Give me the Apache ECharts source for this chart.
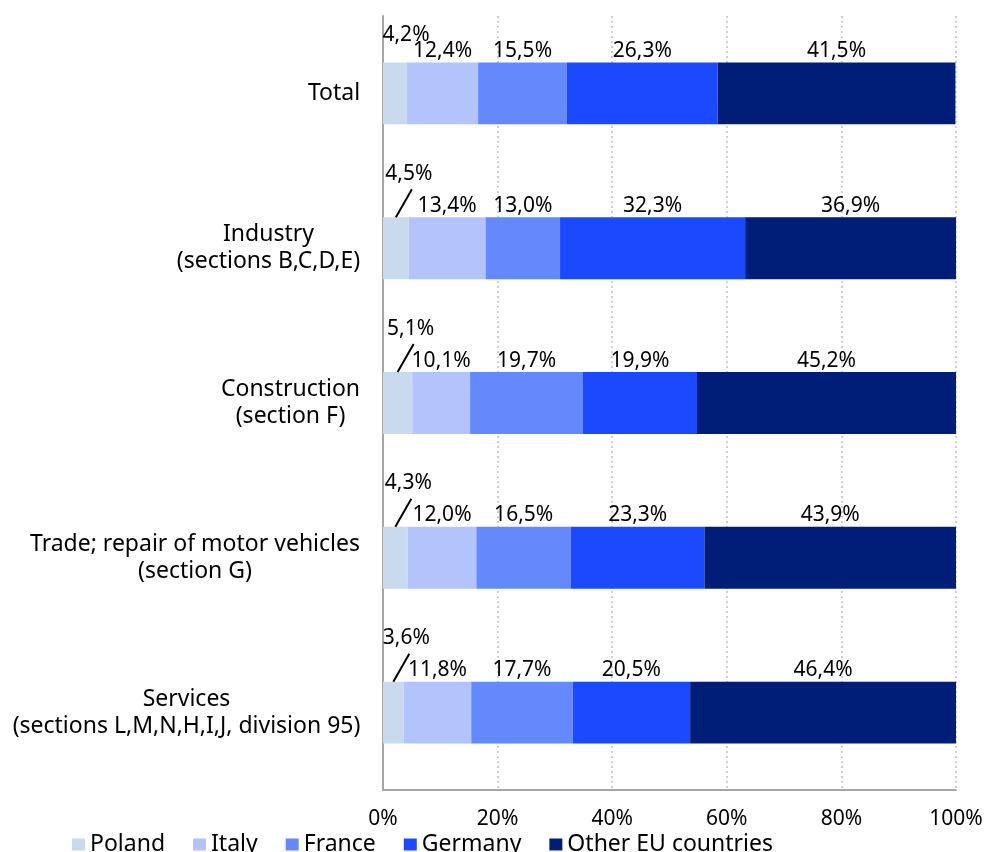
<!DOCTYPE html>
<html>
<head>
<meta charset="utf-8">
<script src="https://cdn.jsdelivr.net/npm/echarts@6/dist/echarts.min.js"></script>
<style>html,body{margin:0;padding:0;background:#fff}#c{width:987px;height:852px}</style>
</head>
<body>
<div id="c"></div>
<script>
const categories = [
  'Total',
  'Industry\n(sections B,C,D,E)',
  'Construction\n(section F)',
  'Trade; repair of motor vehicles\n(section G)',
  'Services\n(sections L,M,N,H,I,J, division 95)'
];
const seriesNames = ['Poland', 'Italy', 'France', 'Germany', 'Other EU countries'];
const poland  = [4.2, 4.5, 5.1, 4.3, 3.6];
const italy   = [12.4, 13.4, 10.1, 12.0, 11.8];
const france  = [15.5, 13.0, 19.7, 16.5, 17.7];
const germany = [26.3, 32.3, 19.9, 23.3, 20.5];
const otherEU = [41.5, 36.9, 45.2, 43.9, 46.4];
const xTicks = [0, 20, 40, 60, 80, 100];

const colors = ['#c9d9ee', '#b3c3fc', '#6389fd', '#1b4afe', '#001e78'];
const FONT = 'Noto Sans';
const CAT_SIZE = 23;
const fmt = v => v.toFixed(1).replace('.', ',') + '%';

// measure category lines so multi-line labels can be centred within a right-aligned block
const ctx = document.createElement('canvas').getContext('2d');
ctx.font = CAT_SIZE + 'px "' + FONT + '"';
const rich = {};
categories.forEach((c, i) => {
  const w = Math.max(...c.split('\n').map(l => ctx.measureText(l).width));
  rich['c' + i] = {width: Math.ceil(w) + 1, align: 'center', fontSize: CAT_SIZE, lineHeight: 27,
                   fontFamily: FONT, color: '#000'};
});

const chart = echarts.init(document.getElementById('c'), null, {renderer: 'canvas'});
const dataSets = [poland, italy, france, germany, otherEU];

const series = dataSets.map((d, si) => {
  const s = {
    name: seriesNames[si],
    type: 'bar',
    stack: 'all',
    barWidth: '40%',
    data: d,
    itemStyle: {color: colors[si]},
    label: {
      show: true,
      position: 'top',
      distance: 1,
      color: '#000',
      fontFamily: FONT,
      fontSize: 21,
      formatter: p => fmt(p.value)
    }
  };
  if (si === 0) {
    s.labelLayout = p => (p.dataIndex === 0 ? {dx: 11, dy: -16} : {dx: 13, dy: -32});
  }
  return s;
});

chart.setOption({
  animation: false,
  color: colors,
  grid: {left: 383, right: 31, top: 16, bottom: 62, containLabel: false},
  xAxis: {
    type: 'value',
    min: xTicks[0],
    max: xTicks[xTicks.length - 1],
    interval: 20,
    axisLine: {show: true, lineStyle: {color: '#a6a6a6', width: 2}},
    axisTick: {show: false},
    axisLabel: {
      formatter: v => v + '%',
      color: '#000',
      fontFamily: FONT,
      fontSize: 21,
      margin: 19
    },
    splitLine: {show: true, lineStyle: {color: '#b8c0d0', type: [2, 3], width: 1.5}}
  },
  yAxis: {
    type: 'category',
    data: categories,
    inverse: true,
    axisLine: {show: true, lineStyle: {color: '#a6a6a6', width: 2}},
    axisTick: {show: false},
    axisLabel: {
      color: '#000',
      fontFamily: FONT,
      fontSize: CAT_SIZE,
      lineHeight: 27,
      margin: 22,
      align: 'right',
      formatter: (value, index) => value.split('\n').map(l => '{c' + index + '|' + l + '}').join('\n'),
      rich: rich
    }
  },
  legend: {
    data: seriesNames,
    left: 67,
    top: 828,
    icon: 'rect',
    itemWidth: 13,
    itemHeight: 12,
    itemGap: 28,
    textStyle: {color: '#000', fontFamily: FONT, fontSize: 23}
  },
  series: series
});

// leader lines for the Poland labels (rows 1..4), positioned via the chart's scales
const pix = (x, i) => chart.convertToPixel({gridIndex: 0}, [x, categories[i]]);
const band = Math.abs(pix(0, 1)[1] - pix(0, 0)[1]);
const barH = band * 0.4;
const graphics = [];
for (let i = 1; i < categories.length; i++) {
  const p = pix(poland[i] / 2, i);
  const top = p[1] - barH / 2;
  graphics.push({
    type: 'line',
    shape: {x1: p[0], y1: top, x2: p[0] + 16, y2: top - 28},
    style: {stroke: '#000', lineWidth: 2},
    z: 100
  });
}
chart.setOption({graphic: graphics});
</script>
</body>
</html>
